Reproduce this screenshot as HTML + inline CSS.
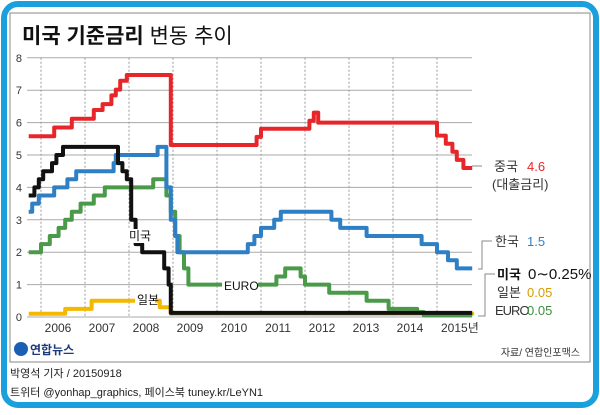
<!DOCTYPE html>
<html><head><meta charset="utf-8"><style>
body{margin:0;width:600px;height:410px;overflow:hidden;background:#fff;font-family:"Liberation Sans","Noto Sans CJK KR",sans-serif}
svg text{font-family:"Liberation Sans","Noto Sans CJK KR",sans-serif}
</style></head><body>
<svg width="600" height="410">
<rect x="4" y="4" width="592" height="401" rx="14" fill="#fff" stroke="#1aa0dc" stroke-width="6"/>
<rect x="10" y="13" width="580" height="349" fill="#fff" stroke="#888" stroke-width="1"/>
<text x="22" y="43" font-size="21" font-weight="bold" fill="#111">미국 기준금리 <tspan font-weight="normal">변동 추이</tspan></text>
<g id="grid"></g>
<g id="series"></g>
<g id="labels"></g>
<g font-size="13">
<polyline points="472,166 482,166" stroke="#888" fill="none"/>
<text x="494" y="171" fill="#333">중국</text>
<text x="527" y="171" fill="#e8262a">4.6</text>
<text x="492" y="189" fill="#333">(대출금리)</text>
<polyline points="478,269 482,269 482,241 492,241" stroke="#888" fill="none"/>
<text x="495" y="246" fill="#333">한국</text>
<text x="527" y="246" fill="#2f7fc5">1.5</text>
<polyline points="478,316 485,316 485,274 495,274 M485,310 495,310" stroke="#888" fill="none"/>
<text x="497" y="279" fill="#111" font-weight="bold">미국</text>
<text x="528" y="279" fill="#111" font-size="15">0∼0.25%</text>
<text x="497" y="297" fill="#333">일본</text>
<text x="527" y="297" fill="#d99a00">0.05</text>
<text x="495" y="315" fill="#333" letter-spacing="-1">EURO</text>
<text x="527" y="315" fill="#3f8f3f">0.05</text>
</g>
<text x="580" y="356" font-size="10" fill="#333" text-anchor="end">자료/ 연합인포맥스</text>
<circle cx="21" cy="349" r="7" fill="#1a5fb4"/>
<text x="30" y="354" font-size="12" font-weight="bold" fill="#1a3a7a">연합뉴스</text>
<text x="10" y="377" font-size="11" fill="#222">박영석 기자 / 20150918</text>
<text x="10" y="396" font-size="11" fill="#222">트위터 @yonhap_graphics, 페이스북 tuney.kr/LeYN1</text>
</svg>
<script>
const yTicks=[0,1,2,3,4,5,6,7,8];
const years=[2006,2007,2008,2009,2010,2011,2012,2013,2014,2015];
const chinaT=[2005.72,2006.3,2006.7,2007.2,2007.4,2007.6,2007.7,2007.8,2007.95,2008.7,2008.95,2010.8,2010.9,2011.0,2011.9,2012.1,2012.2,2012.3,2014.85,2015.0,2015.2,2015.35,2015.45,2015.6,2015.8];
const chinaV=[5.58,5.85,6.12,6.39,6.57,6.84,7.02,7.29,7.47,7.47,5.31,5.31,5.56,5.81,5.81,6.06,6.31,6.0,6.0,5.6,5.35,5.1,4.85,4.6,4.6];
const usT=[2005.72,2005.85,2005.95,2006.05,2006.15,2006.25,2006.35,2006.5,2007.65,2007.75,2007.85,2007.95,2008.05,2008.15,2008.3,2008.75,2008.8,2008.9,2008.95,2015.8];
const usV=[3.75,4.0,4.25,4.5,4.5,4.75,5.0,5.25,5.25,4.75,4.5,4.25,3.0,2.25,2.0,2.0,1.5,1.0,0.125,0.125];
const koreaT=[2005.72,2005.8,2005.95,2006.3,2006.6,2006.8,2007.55,2007.65,2007.7,2008.6,2008.65,2008.75,2008.85,2008.95,2009.05,2009.1,2010.55,2010.7,2010.85,2011.0,2011.3,2011.45,2012.5,2012.6,2012.8,2013.3,2013.4,2014.6,2014.65,2015.0,2015.25,2015.45,2015.8];
const koreaV=[3.25,3.5,3.75,4.0,4.25,4.5,4.5,4.75,5.0,5.0,5.25,5.25,4.0,3.0,2.5,2.0,2.0,2.25,2.5,2.75,3.0,3.25,3.25,3.0,2.75,2.75,2.5,2.5,2.25,2.0,1.75,1.5,1.5];
const euroT=[2005.72,2006.0,2006.2,2006.4,2006.55,2006.7,2006.9,2007.2,2007.45,2008.5,2008.55,2008.75,2008.85,2008.95,2009.05,2009.15,2009.25,2009.35,2011.25,2011.35,2011.55,2011.8,2011.9,2012.0,2012.5,2012.55,2013.3,2013.4,2013.85,2013.9,2014.45,2014.55,2014.7,2015.8];
const euroV=[2.0,2.25,2.5,2.75,3.0,3.25,3.5,3.75,4.0,4.0,4.25,4.25,3.75,3.25,2.5,2.0,1.5,1.0,1.0,1.25,1.5,1.5,1.25,1.0,1.0,0.75,0.75,0.5,0.5,0.25,0.25,0.15,0.05,0.05];
const japanT=[2005.72,2006.55,2007.15,2008.6,2008.7,2008.95,2015.8];
const japanV=[0.1,0.25,0.5,0.5,0.3,0.1,0.05];
const NS='http://www.w3.org/2000/svg';
const X0=41,XS=44,Y0=317,YS=32.4;
const xs=t=>X0+(t-2006)*XS, ys=v=>Y0-v*YS;
const grid=document.getElementById('grid'),lab=document.getElementById('labels'),ser=document.getElementById('series');
function mk(tag,attrs,parent){const e=document.createElementNS(NS,tag);for(const k in attrs)e.setAttribute(k,attrs[k]);parent.appendChild(e);return e;}
yTicks.forEach(v=>{
 const l=mk('line',{x1:27,x2:472,y1:ys(v),y2:ys(v),stroke:'#aaa','stroke-width':1},grid);
 
 
 const t=mk('text',{x:22,y:ys(v)+4,'font-size':11,fill:'#333','text-anchor':'end'},lab);
 t.textContent=v;
 
 
});
years.forEach((y,i)=>{
 const l=mk('line',{x1:xs(y),x2:xs(y),y1:ys(8),y2:Y0,stroke:'#999','stroke-width':1,'stroke-dasharray':'2,2'},grid);
 
 
 const last=i===years.length-1;
 const t=mk('text',{x:xs(y)+(last?4:17),y:332,'font-size':12,fill:'#333','text-anchor':last?'start':'middle'},lab);
 t.textContent=last?y+'년':y;
 
 
});
function draw(T,V,color,name){
 let d='M'+xs(T[0]).toFixed(1)+','+ys(V[0]).toFixed(1);
 for(let i=1;i<T.length;i++){d+=' H'+xs(T[i]).toFixed(1)+' V'+ys(V[i]).toFixed(1);}
 const p=mk('path',{d:d,fill:'none',stroke:color,'stroke-width':4,'stroke-linejoin':'round'},ser);
 
 
}
draw(japanT,japanV,'#f5b800','japan-line');
draw(euroT,euroV,'#4a9a4a','euro-line');
draw(koreaT,koreaV,'#2f7fc5','korea-line');
draw(chinaT,chinaV,'#e8262a','china-line');
draw(usT,usV,'#111','us-line');
function inl(x,y,txt,name){
 const r=mk('rect',{x:x-2,y:y-11,width:txt.length*8+4,height:14,fill:'#fff'},ser);
 
 
 const t=mk('text',{x:x,y:y,'font-size':12,fill:'#111'},ser);
 t.textContent=txt;
 
 
}
inl(129,240,'미국','us-inline-label');
inl(137,304,'일본','japan-inline-label');
inl(224,290,'EURO','euro-inline-label');
</script>
</body></html>
